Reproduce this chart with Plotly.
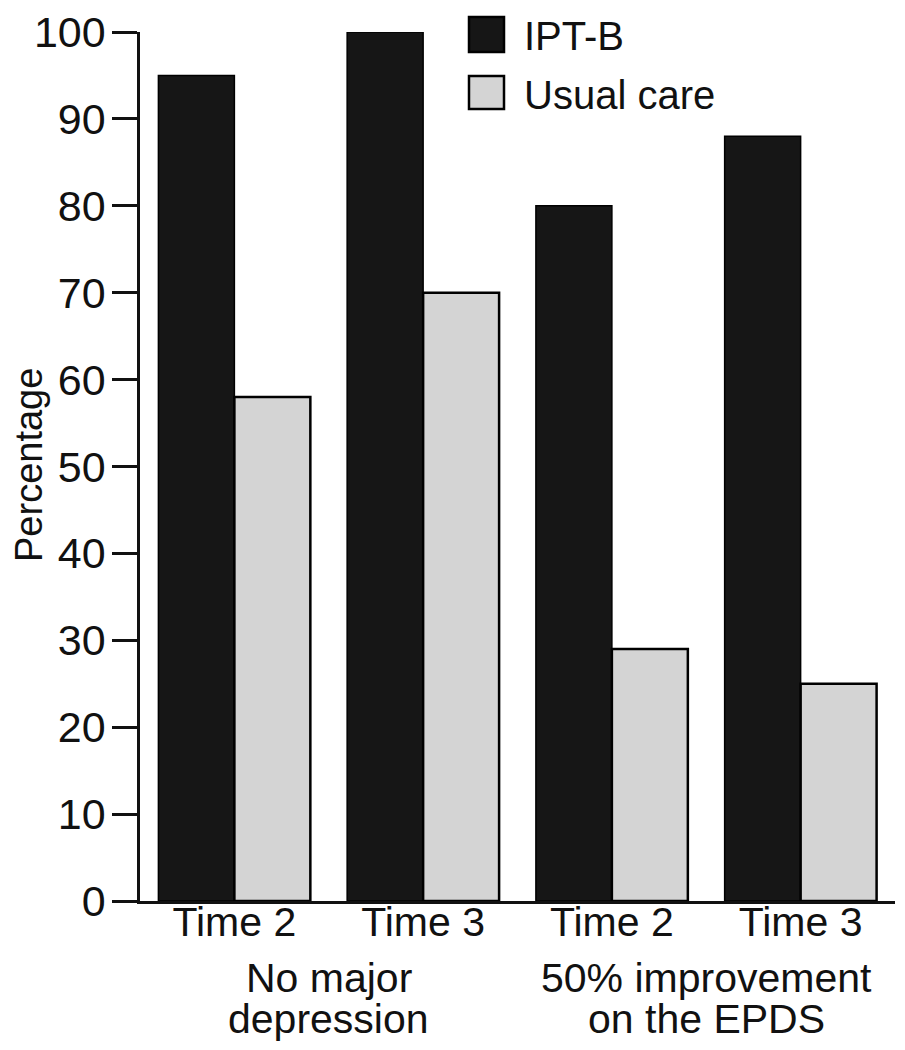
import plotly.graph_objects as go

# Data
positions = [0, 1, 2, 3]
time_labels = ["Time 2", "Time 3", "Time 2", "Time 3"]
group_labels = [["No major", "depression"], ["50% improvement", "on the EPDS"]]
group_centers = [0.5, 2.5]
series_names = ["IPT-B", "Usual care"]
y_title = "Percentage"
ipt_b = [95, 100, 80, 88]
usual_care = [58, 70, 29, 25]
y_ticks = [0, 10, 20, 30, 40, 50, 60, 70, 80, 90, 100]

BLACK = "#161616"
GRAY = "#d4d4d4"
FONT = "Liberation Sans, Arial, Helvetica, sans-serif"

OFF = 8  # page body margin offset
W, H = 905 - OFF, 1050 - OFF
ML, MR, MT, MB = 140 - OFF, 10, 32 - OFF, 149
PW, PH = W - ML - MR, H - MT - MB

def px_to_paper_x(px):  # px in page coordinates
    return (px - OFF - ML) / PW

def px_to_paper_y(py):
    return (H - MB - (py - OFF)) / PH

fig = go.Figure()
fig.add_trace(go.Bar(x=positions, y=ipt_b, name=series_names[0],
                     marker=dict(color=BLACK, line=dict(color="#000000", width=1.5)),
                     showlegend=False))
fig.add_trace(go.Bar(x=positions, y=usual_care, name=series_names[1],
                     marker=dict(color=GRAY, line=dict(color="#000000", width=2.5)),
                     showlegend=False))

fig.update_layout(
    width=W, height=H,
    margin=dict(l=ML, r=MR, t=MT, b=MB, autoexpand=False),
    paper_bgcolor="white", plot_bgcolor="white",
    barmode="group", bargap=0.195, bargroupgap=0,
    font=dict(family=FONT, color="#111111"),
)
fig.update_xaxes(
    range=[-0.5, 3.5], tickvals=positions, ticktext=time_labels,
    showline=True, linecolor="#111111", linewidth=2.5,
    ticks="", showgrid=False, zeroline=False, automargin=False,
    ticklabelstandoff=-17,
    tickfont=dict(size=41, family=FONT, color="#111111"),
)
fig.update_yaxes(
    range=[0, 100], tickvals=y_ticks,
    showline=True, linecolor="#111111", linewidth=2.5,
    ticks="outside", ticklen=25, tickwidth=2.5, tickcolor="#111111",
    showgrid=False, zeroline=False, ticklabelstandoff=-2, automargin=False,
    ticklabeloverflow="allow",
    tickfont=dict(size=43, family=FONT, color="#111111"),
)

# Y-axis title
fig.add_annotation(x=px_to_paper_x(29), xref="paper", y=px_to_paper_y(465), yref="paper",
                   text=y_title, textangle=-90, showarrow=False,
                   xanchor="center", yanchor="middle",
                   font=dict(size=38, family=FONT, color="#111111"))

# Group labels (two lines each, tight line spacing)
line_y_px = [978, 1019]
for gc, lines in zip(group_centers, group_labels):
    for ln, ypx in zip(lines, line_y_px):
        fig.add_annotation(x=gc, xref="x", y=px_to_paper_y(ypx), yref="paper",
                           text=ln, showarrow=False, xanchor="center", yanchor="middle",
                           font=dict(size=41, family=FONT, color="#111111"))

# Custom legend
legend_items = [(series_names[0], BLACK, 17, 52), (series_names[1], GRAY, 76, 109)]
for name, col, y0, y1 in legend_items:
    fig.add_shape(type="rect", xref="paper", yref="paper",
                  x0=px_to_paper_x(469), x1=px_to_paper_x(504),
                  y0=px_to_paper_y(y1), y1=px_to_paper_y(y0),
                  fillcolor=col, line=dict(color="#000000", width=2.5))
    fig.add_annotation(x=px_to_paper_x(522), xref="paper", y=px_to_paper_y((y0 + y1) / 2 + 2), yref="paper",
                       text=name, showarrow=False, xanchor="left", yanchor="middle",
                       font=dict(size=40, family=FONT, color="#111111"))

fig.write_html("out.html")
